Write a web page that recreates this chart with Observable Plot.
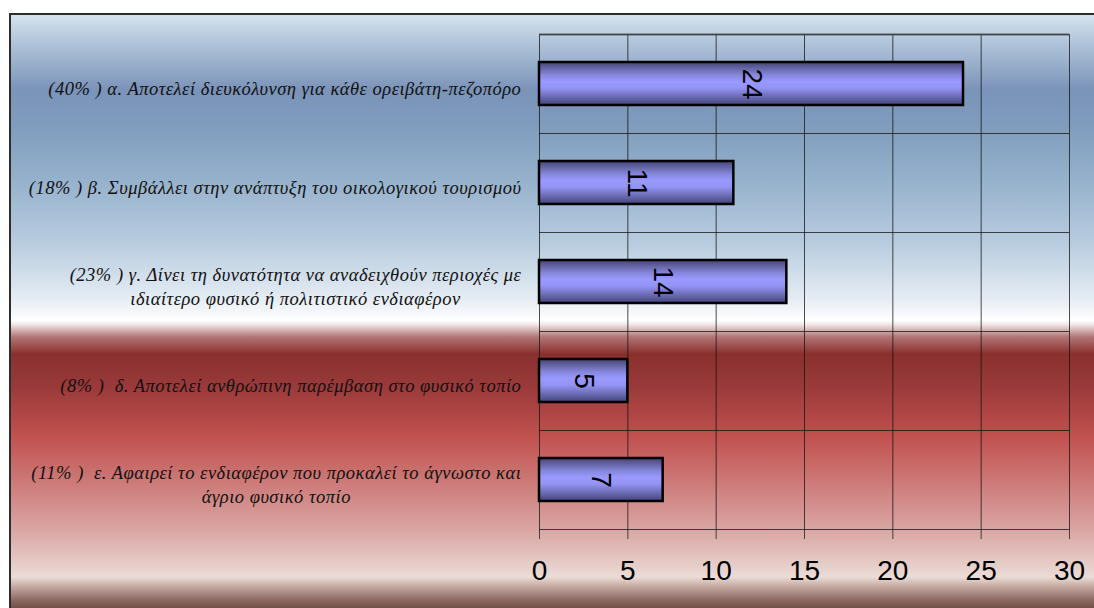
<!DOCTYPE html>
<html>
<head>
<meta charset="utf-8">
<script src="https://cdn.jsdelivr.net/npm/d3@7"></script>
<script src="https://cdn.jsdelivr.net/npm/@observablehq/plot@0.6"></script>
<style>
  body { margin: 0; background: #ffffff; }
  #wrap { position: relative; width: 1094px; height: 608px; overflow: hidden; }
  #bg {
    position: absolute; left: 9px; top: 13px; width: 1100px; height: 600px;
    border-left: 2px solid #2e2e2e; border-top: 2px solid #2e2e2e;
    background: linear-gradient(to bottom,
      #d4e3ef 0px, #b3c8dc 25px, #7b93b9 75px, #7f9cbd 110px, #93afca 160px,
      #b9cde0 230px, #e6edf4 285px, #ffffff 305px, #f3ebeb 309px,
      #b27574 322px, #89302e 339px, #99393a 370px, #bf504d 420px,
      #cc7876 465px, #d9a6a3 515px, #e8d3ce 555px, #ecdcd6 562px,
      #c3a79f 572px, #8c6a62 585px, #5b3a33 600px);
  }
  #chart { position: absolute; left: 0; top: 0; }
  g.cat-label text { font-family: "Liberation Serif", "Times New Roman", serif !important; letter-spacing: 0.5px; }
</style>
</head>
<body>
<div id="wrap"><div id="bg"></div><div id="chart"></div></div>
<script>
const labels = [
  "(40% ) α. Αποτελεί διευκόλυνση για κάθε ορειβάτη-πεζοπόρο",
  "(18% ) β. Συμβάλλει στην ανάπτυξη του οικολογικού τουρισμού",
  "(23% ) γ. Δίνει τη δυνατότητα να αναδειχθούν περιοχές με\nιδιαίτερο φυσικό ή πολιτιστικό ενδιαφέρον",
  "(8% )  δ. Αποτελεί ανθρώπινη παρέμβαση στο φυσικό τοπίο",
  "(11% )  ε. Αφαιρεί το ενδιαφέρον που προκαλεί το άγνωστο και\nάγριο φυσικό τοπίο"
];
const values = [24, 11, 14, 5, 7];
const xTicks = [0, 5, 10, 15, 20, 25, 30];

const data = labels.map((label, i) => ({label, value: values[i], i}));
const bounds = d3.range(labels.length + 1);

const labelSize = 18.5;
const spacing = 0.5;
const canvas = document.createElement("canvas");
const ctx = canvas.getContext("2d");
ctx.font = `italic ${labelSize}px "Liberation Serif"`;
const textWidth = (s) => d3.max(s.split("\n"), line => ctx.measureText(line).width + spacing * line.length);

const labelMarks = data.map(d => Plot.text([d], {
  y: r => r.i + 0.5,
  text: "label",
  frameAnchor: "left",
  textAnchor: "middle",
  lineAnchor: "middle",
  lineHeight: 1.33,
  dx: -18 - textWidth(d.label) / 2,
  dy: 3,
  fontSize: labelSize,
  fontStyle: "italic",
  fontFamily: "Liberation Serif",
  fill: "#111"
}));

const plot = Plot.plot({
  width: 1094,
  height: 608,
  marginTop: 34,
  marginBottom: 79,
  marginLeft: 539,
  marginRight: 25,
  style: {background: "transparent", fontFamily: "'Liberation Sans', Arial, sans-serif", color: "#000", overflow: "visible"},
  x: {domain: [0, 30], axis: null},
  y: {domain: [0, labels.length], reverse: true, axis: null},
  marks: [
    Plot.ruleX(xTicks, {stroke: "#111", strokeOpacity: 0.75, strokeWidth: 1}),
    Plot.ruleY(bounds, {stroke: "#111", strokeOpacity: 0.75, strokeWidth: 1}),
    Plot.ruleY([0], {stroke: "#444", strokeOpacity: 0.8, strokeWidth: 2}),
    Plot.rectX(data, {
      x1: d => 0, x2: "value",
      y1: "i", y2: d => d.i + 1,
      insetTop: 28, insetBottom: 28,
      fill: "url(#barGrad)", stroke: "#000", strokeWidth: 2.5
    }),
    Plot.text(data, {
      x: d => d.value / 2, y: d => d.i + 0.5,
      text: d => String(d.value),
      rotate: 90, fontSize: 28, fill: "#000",
      textAnchor: "middle", lineAnchor: "middle"
    }),
    Plot.axisX({
      ticks: xTicks, tickSize: 10, tickPadding: 21,
      fontSize: 28, stroke: "#222", strokeOpacity: 0.8,
      tickFormat: d => String(d), label: null
    }),
    ...labelMarks
  ]
});

const svg = d3.select(plot);
svg.selectAll("g[font-style='italic']").classed("cat-label", true);
const grad = svg.insert("defs", ":first-child")
  .append("linearGradient")
  .attr("id", "barGrad")
  .attr("x1", 0).attr("y1", 0).attr("x2", 0).attr("y2", 1);
[
  [0, "#444476"], [0.12, "#5f5f9c"], [0.3, "#8686dc"], [0.45, "#9999ff"],
  [0.6, "#9494f6"], [0.8, "#6d6db6"], [1, "#43437a"]
].forEach(([o, c]) => grad.append("stop").attr("offset", o).attr("stop-color", c));

document.getElementById("chart").appendChild(plot);
</script>
</body>
</html>
